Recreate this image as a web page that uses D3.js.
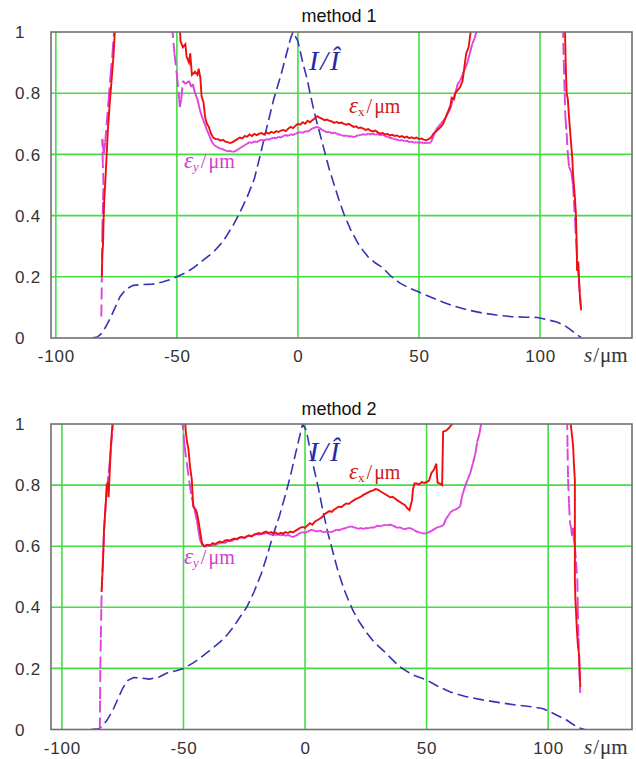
<!DOCTYPE html>
<html>
<head>
<meta charset="utf-8">
<script src="https://cdn.jsdelivr.net/npm/d3@7"></script>
<style>
  body { margin: 0; background: #fff; }
  svg text { font-family: "Liberation Sans", Arial, sans-serif; }
  .serif { font-family: "Liberation Serif", "Times New Roman", serif !important; }
</style>
</head>
<body>
<div id="chart"></div>
<script>
const xTicks = [-100, -50, 0, 50, 100];
const yTicks = [0, 0.2, 0.4, 0.6, 0.8, 1];
const titles = ["method 1", "method 2"];

// I / I-hat, method 1
const intensity1 = [[-85,0],[-83,0.003],[-81.5,0.012],[-79.5,0.035],[-77.5,0.065],[-75.5,0.1],[-73.5,0.135],[-71,0.16],[-68,0.172],[-64,0.175],[-60,0.176],[-56,0.183],[-53,0.19],[-50,0.2],[-46,0.215],[-43,0.23],[-39,0.255],[-35,0.28],[-31,0.315],[-27,0.365],[-24,0.41],[-21,0.46],[-18,0.52],[-15.5,0.6],[-12.5,0.7],[-10,0.78],[-7,0.86],[-5,0.92],[-3,0.98],[-2,1.0],[0,0.97],[2,0.9],[4,0.84],[5,0.8],[7,0.73],[9,0.67],[11,0.61],[13,0.55],[15,0.5],[17,0.45],[19,0.405],[22,0.35],[25.5,0.3],[29,0.265],[32,0.245],[35,0.23],[38,0.205],[42,0.18],[46,0.163],[50,0.15],[55,0.133],[60,0.117],[65,0.103],[70,0.092],[76,0.082],[82,0.075],[88,0.07],[94,0.068],[99,0.067],[103,0.06],[107,0.052],[110,0.042],[113,0.025],[115,0.012],[117,0.002]];

// eps_x, method 1 (null = curve leaves the plot)
const epsX1 = [[-81,0.2],[-80.8,0.27],[-80.5,0.31],[-80.3,0.38],[-80,0.45],[-79.5,0.52],[-79,0.6],[-78.5,0.68],[-77.8,0.76],[-77,0.84],[-76.2,0.92],[-75.5,1.02],null,
  [-48.8,1.02],[-48.5,0.97],[-47.5,0.95],[-46.5,0.96],[-46,0.92],[-45,0.9],[-44.5,0.93],[-43.8,0.86],[-42.5,0.87],[-41.5,0.86],[-41,0.88],[-40.3,0.85],[-39.8,0.79],[-39,0.77],[-38.3,0.72],[-37.6,0.70],[-36.8,0.69],[-36,0.67],[-35,0.655],[-34,0.65],[-33,0.65],[-32,0.645],[-31,0.648],[-30,0.642],[-29,0.64],[-28,0.637],[-27,0.64],[-26,0.645],[-25,0.65],[-24,0.655],[-23,0.652],[-22,0.66],[-21,0.658],[-20,0.665],[-19,0.66],[-18,0.667],[-17,0.663],[-16,0.668],[-15,0.67],[-14,0.665],[-13,0.672],[-12,0.668],[-11,0.674],[-10,0.67],[-9,0.676],[-8,0.673],[-7,0.678],[-6,0.68],[-5,0.676],[-4,0.684],[-3,0.69],[-2,0.686],[-1,0.694],[0,0.70],[1,0.697],[2,0.705],[3,0.70],[4,0.71],[5,0.705],[6,0.712],[7,0.718],[8,0.725],[9,0.72],[10,0.716],[11,0.712],[12,0.714],[13,0.71],[14,0.708],[15,0.703],[16,0.706],[17,0.702],[18,0.704],[19,0.7],[20,0.697],[21,0.7],[22,0.695],[23,0.69],[24,0.692],[25,0.686],[26,0.688],[27,0.684],[28,0.68],[29,0.683],[30,0.678],[31,0.675],[32,0.678],[33,0.672],[34,0.668],[35,0.67],[36,0.665],[37,0.667],[38,0.662],[39,0.664],[40,0.66],[41,0.662],[42,0.657],[43,0.66],[44,0.655],[45,0.658],[46,0.653],[47,0.656],[48,0.652],[49,0.655],[50,0.65],[51,0.652],[52,0.648],[53,0.646],[54,0.65],[55,0.655],[56,0.668],[57,0.675],[58,0.682],[59,0.69],[60,0.70],[61,0.72],[62,0.74],[63,0.76],[63.5,0.785],[64.5,0.78],[65,0.8],[66,0.81],[67,0.82],[68,0.84],[68.5,0.87],[69,0.9],[69.5,0.93],[70.5,0.95],[71,0.98],[71.7,1.02],null,
  [110.3,1.02],[110.6,0.9],[111,0.8],[111.5,0.78],[112,0.72],[112.6,0.66],[113,0.62],[113.4,0.58],[113.6,0.54],[114,0.5],[114.4,0.46],[114.8,0.41],[115,0.35],[115.2,0.3],[115.3,0.22],[115.8,0.25],[116.2,0.18],[116.6,0.12],[117,0.09]];

// eps_y, method 1
const epsY1 = [[-81.2,0.07],[-81,0.2],[-80.8,0.35],[-80.5,0.45],[-80.3,0.5],[-80.6,0.57],[-80.8,0.65],[-80.2,0.6],[-79.6,0.64],[-79,0.7],[-78.2,0.78],[-77.4,0.86],[-76.6,0.93],[-75.8,1.02],null,
  [-52,1.02],[-51,0.93],[-50,0.86],[-49,0.78],[-48.8,0.755],[-48.2,0.78],[-47.5,0.84],[-46.5,0.83],[-45,0.84],[-44,0.82],[-43.4,0.83],[-42.5,0.80],[-41.5,0.78],[-40.5,0.745],[-39.5,0.72],[-38.5,0.70],[-37.6,0.68],[-36.5,0.66],[-35.5,0.64],[-34.5,0.63],[-33.5,0.625],[-32.5,0.62],[-31.5,0.618],[-30,0.613],[-29,0.61],[-28,0.612],[-27,0.608],[-26,0.61],[-25,0.615],[-24,0.62],[-23,0.625],[-22,0.63],[-21,0.635],[-20,0.64],[-19,0.637],[-18,0.643],[-17,0.64],[-16,0.645],[-15,0.648],[-14,0.645],[-13,0.65],[-12,0.648],[-11,0.652],[-10,0.655],[-9,0.652],[-8,0.658],[-7,0.655],[-6,0.66],[-5,0.664],[-4,0.66],[-3,0.666],[-2,0.663],[-1,0.668],[0,0.67],[1,0.673],[2,0.67],[3,0.676],[4,0.674],[5,0.68],[6,0.684],[7,0.688],[8,0.69],[9,0.686],[10,0.68],[11,0.676],[12,0.672],[13,0.674],[14,0.668],[15,0.672],[16,0.668],[17,0.665],[18,0.663],[19,0.66],[20,0.662],[21,0.658],[22,0.66],[23,0.656],[24,0.66],[25,0.662],[26,0.664],[27,0.666],[28,0.664],[29,0.668],[30,0.665],[31,0.668],[32,0.664],[33,0.667],[34,0.662],[35,0.665],[36,0.66],[37,0.657],[38,0.655],[39,0.652],[40,0.65],[41,0.648],[42,0.645],[43,0.647],[44,0.643],[45,0.645],[46,0.64],[47,0.642],[48,0.638],[49,0.64],[50,0.637],[51,0.64],[52,0.636],[53,0.638],[54,0.637],[55,0.64],[56,0.66],[57,0.68],[58,0.69],[59,0.7],[60,0.71],[61,0.72],[62,0.735],[63,0.75],[64,0.78],[65,0.8],[66,0.83],[67,0.84],[68,0.86],[69,0.88],[70,0.9],[71,0.93],[72,0.96],[73,0.98],[74.4,1.02],null,
  [109.5,1.02],[109.8,0.9],[110.2,0.8],[110.5,0.72],[111,0.67],[111.5,0.6],[112,0.56],[113,0.54],[113.6,0.5],[114,0.45],[114.5,0.38],[115,0.3],[115.5,0.24],[116,0.19],[116.5,0.14],[117,0.1]];

// I / I-hat, method 2
const intensity2 = [[-88,0],[-85,0.002],[-83.5,0.01],[-81.5,0.03],[-79,0.064],[-77,0.1],[-75,0.135],[-73,0.16],[-70.5,0.17],[-67,0.168],[-64,0.165],[-60,0.172],[-56.8,0.185],[-53,0.192],[-50,0.2],[-46,0.218],[-43,0.235],[-39,0.26],[-35,0.286],[-32,0.31],[-29.5,0.335],[-27,0.365],[-24,0.4],[-21,0.45],[-18,0.51],[-15.6,0.57],[-13,0.64],[-10.5,0.7],[-8,0.77],[-6,0.83],[-4,0.9],[-2.5,0.95],[-1,1.0],[0.5,0.98],[2,0.92],[3.5,0.86],[5.5,0.79],[7.5,0.71],[9.5,0.64],[11.5,0.58],[13.5,0.52],[16,0.46],[18,0.42],[20,0.385],[22.5,0.35],[25.5,0.315],[28.5,0.285],[32,0.26],[35.5,0.232],[39,0.205],[44,0.18],[50,0.162],[55,0.14],[60,0.122],[66,0.108],[73,0.097],[80,0.088],[87,0.08],[94,0.074],[98,0.068],[101,0.057],[104,0.045],[107.6,0.031],[110,0.018],[112.5,0.006],[115,0]];

// eps_x, method 2
const epsX2 = [[-83.7,0.45],[-83.4,0.5],[-83.1,0.55],[-82.9,0.6],[-82.7,0.65],[-82.3,0.7],[-81.9,0.75],[-81.6,0.8],[-81,0.81],[-80.8,0.76],[-80.6,0.8],[-80.3,0.85],[-79.9,0.92],[-79.5,0.97],[-79,1.02],null,
  [-49.4,1.02],[-49,0.97],[-48.5,0.94],[-48,0.92],[-47.3,0.86],[-46.6,0.82],[-46,0.73],[-45,0.72],[-44.5,0.71],[-43.8,0.68],[-43,0.64],[-42.4,0.61],[-41.5,0.6],[-40.4,0.605],[-39,0.603],[-38,0.61],[-37,0.607],[-36,0.612],[-35,0.615],[-34,0.612],[-33,0.618],[-32,0.62],[-31,0.617],[-30,0.622],[-29,0.625],[-28,0.622],[-27,0.628],[-26,0.63],[-25,0.627],[-24,0.632],[-23,0.635],[-22,0.632],[-21,0.638],[-20,0.64],[-19,0.643],[-18,0.64],[-17,0.645],[-16,0.648],[-15,0.643],[-14,0.646],[-13,0.642],[-12,0.645],[-11,0.64],[-10,0.644],[-9,0.641],[-8,0.646],[-7,0.643],[-6,0.648],[-5,0.645],[-4,0.65],[-3,0.655],[-2,0.66],[-1,0.663],[0,0.66],[1,0.668],[2,0.675],[3,0.67],[4,0.68],[5,0.685],[6,0.69],[7,0.695],[8,0.705],[9,0.71],[10,0.715],[11,0.712],[12,0.72],[13,0.725],[14,0.73],[15,0.728],[16,0.735],[17,0.74],[18,0.738],[19,0.745],[20,0.75],[21,0.755],[22,0.758],[23,0.762],[24,0.768],[25,0.772],[26,0.776],[27,0.78],[28,0.783],[29,0.787],[30,0.785],[31,0.78],[32,0.775],[33,0.77],[34,0.765],[35,0.76],[36,0.762],[37,0.756],[38,0.75],[39,0.745],[40,0.74],[41,0.735],[42,0.725],[43,0.718],[43.5,0.735],[44,0.75],[44.4,0.785],[45,0.805],[46,0.805],[47,0.802],[48,0.81],[49,0.807],[50,0.81],[51,0.815],[52,0.84],[53,0.85],[54,0.87],[54.5,0.808],[55.5,0.805],[56.4,0.80],[56.8,0.975],[58,0.978],[59,0.985],[60.5,1.0],[61,1.02],null,
  [109,1.02],[110,0.95],[110.3,0.925],[110.6,0.87],[111,0.817],[111,0.7],[111,0.6],[111,0.49],[111.2,0.43],[111.5,0.38],[111.8,0.33],[112.2,0.28],[112.8,0.24],[113,0.19],[113.2,0.14]];

// eps_y, method 2
const epsY2 = [[-84.4,0],[-84.3,0.1],[-84.2,0.2],[-84,0.3],[-83.8,0.4],[-83.6,0.46],[-83.2,0.55],[-82.9,0.6],[-82.7,0.65],[-82.3,0.7],[-81.9,0.75],[-81.4,0.79],[-80.8,0.84],[-80.3,0.88],[-79.8,0.93],[-79.2,0.98],[-79,1.02],null,
  [-50.6,1.02],[-49.6,0.93],[-48.6,0.87],[-47.6,0.81],[-46.6,0.76],[-45.5,0.72],[-44.5,0.685],[-43.8,0.65],[-43.2,0.62],[-42,0.6],[-41,0.598],[-40,0.602],[-39,0.6],[-38,0.605],[-37,0.603],[-36,0.608],[-35,0.61],[-34,0.613],[-33,0.61],[-32,0.616],[-31,0.62],[-30,0.617],[-29,0.622],[-28,0.625],[-27,0.628],[-26,0.63],[-25,0.627],[-24,0.632],[-23,0.635],[-22,0.632],[-21,0.637],[-20,0.64],[-19,0.637],[-18,0.642],[-17,0.64],[-16,0.644],[-15,0.641],[-14,0.637],[-13,0.64],[-12,0.636],[-11,0.639],[-10,0.635],[-9,0.638],[-8,0.634],[-7,0.637],[-6,0.633],[-5,0.63],[-4,0.634],[-3,0.638],[-2,0.643],[-1,0.646],[0,0.643],[1,0.648],[2,0.652],[3,0.653],[4,0.65],[5,0.648],[6,0.652],[7,0.648],[8,0.645],[9,0.649],[10,0.646],[11,0.647],[12,0.65],[13,0.654],[14,0.652],[15,0.656],[16,0.658],[17,0.66],[18,0.663],[19,0.665],[20,0.662],[21,0.66],[22,0.657],[23,0.66],[24,0.656],[25,0.66],[26,0.658],[27,0.662],[28,0.66],[29,0.664],[30,0.667],[31,0.665],[32,0.668],[33,0.67],[34,0.668],[35,0.671],[36,0.668],[37,0.664],[38,0.66],[39,0.662],[40,0.658],[41,0.655],[42,0.658],[43,0.66],[44,0.657],[45,0.652],[46,0.648],[47,0.645],[48,0.643],[49,0.641],[50,0.643],[51,0.646],[52,0.65],[53,0.655],[54,0.66],[55,0.663],[56,0.665],[57,0.67],[58,0.69],[59,0.7],[59.7,0.71],[61,0.718],[62,0.72],[63,0.725],[63.8,0.73],[64.5,0.76],[65,0.775],[66,0.8],[67,0.82],[68,0.84],[69,0.87],[70,0.9],[70.8,0.94],[71.8,0.97],[72.8,1.02],null,
  [107.8,1.02],[108,0.92],[108.2,0.82],[108.6,0.74],[109,0.675],[109.5,0.66],[109.8,0.635],[110.2,0.66],[110.5,0.63],[111,0.6],[111.5,0.55],[112,0.49],[112.2,0.4],[112.5,0.3],[112.8,0.2],[113.2,0.12]];

const width = 636;
const height = 759;

const panels = [
  { title: titles[0], top: 32, bottom: 338, domain: [-102, 138], intensity: intensity1, epsX: epsX1, epsY: epsY1,
    titleY: 22, iLab: [309, 70], exLab: [349, 113], eyLab: [184, 168] },
  { title: titles[1], top: 424, bottom: 729.5, domain: [-104.5, 134.5], intensity: intensity2, epsX: epsX2, epsY: epsY2,
    titleY: 415, iLab: [309, 461], exLab: [349, 479], eyLab: [184, 564] }
];
const left = 51, right = 632;

const svg = d3.select("#chart").append("svg")
  .attr("width", width)
  .attr("height", height);

panels.forEach((p, i) => {
  const x = d3.scaleLinear().domain(p.domain).range([left, right]);
  const y = d3.scaleLinear().domain([0, 1]).range([p.bottom, p.top]);
  const g = svg.append("g");

  g.append("clipPath").attr("id", "clip" + i)
    .append("rect")
    .attr("x", left).attr("y", p.top)
    .attr("width", right - left).attr("height", p.bottom - p.top);

  // grid
  g.selectAll(".vgrid").data(xTicks).enter().append("line")
    .attr("x1", d => x(d)).attr("x2", d => x(d))
    .attr("y1", p.top).attr("y2", p.bottom)
    .attr("stroke", "#44dd44").attr("stroke-width", 1.6);
  g.selectAll(".hgrid").data(yTicks.filter(d => d > 0 && d < 1)).enter().append("line")
    .attr("x1", left).attr("x2", right)
    .attr("y1", d => y(d)).attr("y2", d => y(d))
    .attr("stroke", "#44dd44").attr("stroke-width", 1.6);

  // tick labels
  g.selectAll(".ylab").data(yTicks).enter().append("text")
    .attr("x", 15).attr("y", d => y(d))
    .attr("dy", "0.36em")
    .attr("font-size", 17).attr("letter-spacing", 0.8).attr("fill", "#333")
    .text(d => d);

  const xAxis = g.append("g")
    .attr("transform", `translate(0,${p.bottom})`)
    .call(d3.axisBottom(x).tickValues(xTicks).tickFormat(d => String(d)).tickSize(0).tickPadding(12));
  xAxis.select(".domain").remove();
  xAxis.selectAll("text").attr("font-size", 17).attr("letter-spacing", 0.8).attr("fill", "#333")
    .style("font-family", "'Liberation Sans', Arial, sans-serif");

  const sLab = g.append("text").attr("class", "serif")
    .attr("x", 584).attr("y", p.bottom + 24)
    .attr("font-size", 21).attr("fill", "#333");
  sLab.append("tspan").attr("font-style", "italic").text("s");
  sLab.append("tspan").attr("dx", 1).text("/");
  sLab.append("tspan").attr("dx", 1).text("μm");

  g.append("text")
    .attr("x", 339).attr("y", p.titleY)
    .attr("text-anchor", "middle")
    .attr("font-size", 18).attr("fill", "#111")
    .text(p.title);

  // curves
  const plot = g.append("g").attr("clip-path", `url(#clip${i})`);
  const line = d3.line().defined(d => d).x(d => x(d[0])).y(d => y(d[1]));

  plot.append("path")
    .datum(p.intensity)
    .attr("d", line)
    .attr("fill", "none")
    .attr("stroke", "#3434b4")
    .attr("stroke-width", 1.6)
    .attr("stroke-dasharray", "11,5");

  // eps_y drawn segment by segment so the dash pattern restarts on each step
  plot.selectAll(".ey").data(d3.pairs(p.epsY).filter(([a, b]) => a && b)).enter()
    .append("line")
    .attr("x1", d => x(d[0][0])).attr("y1", d => y(d[0][1]))
    .attr("x2", d => x(d[1][0])).attr("y2", d => y(d[1][1]))
    .attr("stroke", "#e040e0")
    .attr("stroke-width", 1.9)
    .attr("stroke-dasharray", "12,5");

  plot.append("path")
    .datum(p.epsX)
    .attr("d", line)
    .attr("fill", "none")
    .attr("stroke", "#ee1010")
    .attr("stroke-width", 1.9);

  // frame
  g.append("rect")
    .attr("x", left).attr("y", p.top)
    .attr("width", right - left).attr("height", p.bottom - p.top)
    .attr("fill", "none").attr("stroke", "#707070").attr("stroke-width", 1.6);

  // annotations
  const iLab = g.append("text").attr("class", "serif")
    .attr("x", p.iLab[0]).attr("y", p.iLab[1])
    .attr("font-size", 28).attr("fill", "#2828a8");
  iLab.append("tspan").attr("font-style", "italic").text("I");
  iLab.append("tspan").attr("dx", 2).attr("font-style", "italic").text("/");
  iLab.append("tspan").attr("dx", 2).attr("font-style", "italic").text("Î");

  const exLab = g.append("text").attr("class", "serif")
    .attr("x", p.exLab[0]).attr("y", p.exLab[1])
    .attr("font-size", 20).attr("fill", "#cc2020");
  exLab.append("tspan").attr("font-style", "italic").attr("font-size", 23).text("ε");
  exLab.append("tspan").attr("font-size", 13).attr("dy", 3).text("x");
  exLab.append("tspan").attr("dy", -3).attr("dx", 2).text("/");
  exLab.append("tspan").attr("dx", 2).text("μm");

  const eyLab = g.append("text").attr("class", "serif")
    .attr("x", p.eyLab[0]).attr("y", p.eyLab[1])
    .attr("font-size", 20).attr("fill", "#d040d0");
  eyLab.append("tspan").attr("font-style", "italic").attr("font-size", 23).text("ε");
  eyLab.append("tspan").attr("font-size", 13).attr("font-style", "italic").attr("dy", 3).text("y");
  eyLab.append("tspan").attr("dy", -3).attr("dx", 2).text("/");
  eyLab.append("tspan").attr("dx", 2).text("μm");
});
</script>
</body>
</html>
